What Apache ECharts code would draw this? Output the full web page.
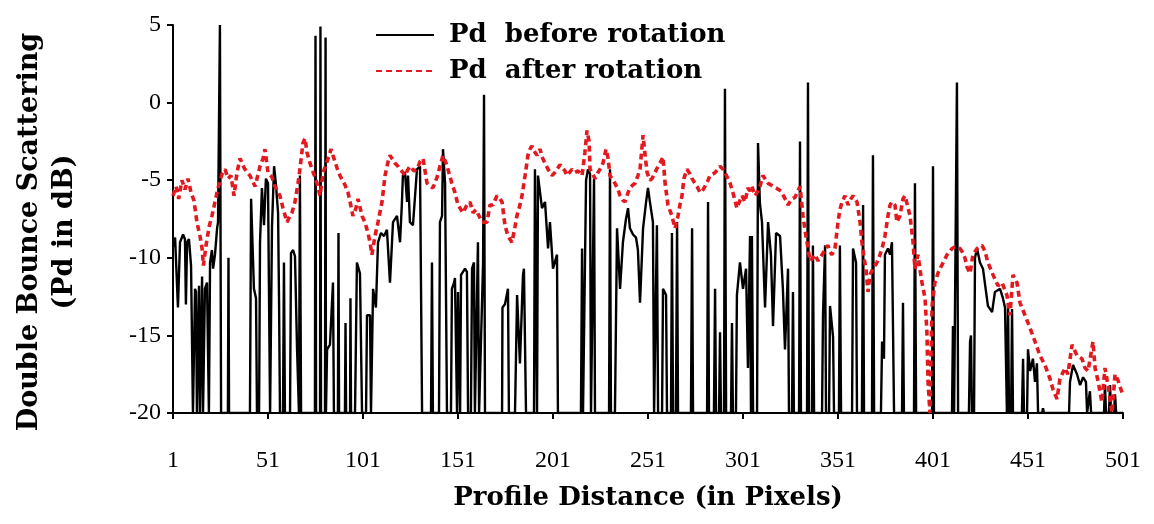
<!DOCTYPE html>
<html><head><meta charset="utf-8">
<script src="https://cdn.jsdelivr.net/npm/echarts@6/dist/echarts.min.js"></script>
<style>html,body{margin:0;padding:0;background:#fff}#c{width:1154px;height:524px}</style>
</head><body><div id="c"></div>
<script>
const seriesNames = ['Pd  before rotation', 'Pd  after rotation'];
const xTitle = 'Profile Distance (in Pixels)';
const yTitle = 'Double Bounce Scattering\n(Pd in dB)';

// Pd before rotation: [pixel index, dB]
const beforeRotation = [
[1,-9.3],[2.1,-8.7],[3.1,-8.6],[3.6,-13.2],[4.7,-9.0],[6.3,-8.5],[7.3,-8.8],[7.8,-13.0],[8.4,-9.0],[9.4,-8.8],
[10.5,-10.5],[11.5,-20],[12.6,-12.0],[13.1,-12.2],[13.6,-20],[14.7,-11.8],[15.2,-20],[16.3,-11.2],[16.8,-20],[17.8,-12.0],
[18.9,-11.6],[19.9,-20],[20.5,-10.3],[21.5,-9.5],[22.1,-10.7],[23.1,-9.8],[24.2,-8.1],[24.7,-7.7],[25.2,-7.7],[25.7,5.0],
[26.3,-20],[29.9,-20],[30.2,-10.0],[30.5,-20],[41.5,-20],[42.1,-6.2],[43.6,-12.0],[44.7,-12.6],[45.2,-20],[46.3,-20],
[46.8,-9.0],[47.8,-5.5],[48.9,-7.9],[49.9,-4.9],[51,-5.2],[52.1,-20],[53.1,-8.0],[54.2,-4.1],[55.2,-5.3],[56.3,-7.1],
[56.8,-12.6],[57.3,-20],[58.9,-20],[59.4,-10.3],[59.9,-20],[62.6,-20],[63.1,-9.7],[64.2,-9.5],[65.2,-9.9],[66.3,-15.9],
[67.3,-20],[67.8,-4.7],[68.4,-20],[75.7,-20],[76,4.3],[76.3,-20],[78.4,-20],[78.6,4.9],[78.9,-20],[81,-20],
[81.3,4.2],[81.5,-20],[82.1,-15.9],[83.6,-15.6],[85.2,-11.6],[85.7,-20],[87.8,-20],[88.1,-8.4],[88.4,-20],[91.5,-20],
[91.8,-14.2],[92.1,-20],[94.2,-20],[94.4,-12.6],[94.7,-20],[96.8,-20],[97.8,-10.3],[99.4,-11.0],[100.5,-20],[102.6,-20],
[103.1,-13.7],[104.7,-13.7],[105.2,-20],[106.3,-12.0],[107.8,-13.2],[108.9,-9.0],[110.5,-8.4],[112.1,-8.6],[113.6,-8.2],[115.2,-11.6],
[116.8,-7.7],[118.9,-7.3],[120.5,-9.0],[121.5,-6.4],[122,-4.7],[123.1,-4.5],[124.2,-6.4],[124.7,-4.7],[125.7,-7.7],[127.3,-7.9],
[129.4,-4.3],[131,-4.1],[132.1,-20],[136.8,-20],[137.3,-10.3],[137.8,-20],[141,-20],[141.5,-7.7],[142.6,-7.3],[143.1,-3.0],
[144.2,-5.2],[145.2,-20],[147.3,-20],[147.8,-12.0],[148.9,-11.6],[149.4,-11.3],[150.5,-20],[151,-12.2],[152.1,-20],[152.6,-11.1],
[154.7,-10.7],[155.7,-10.9],[156.3,-20],[157.8,-20],[158.4,-10.7],[159.4,-10.3],[159.9,-20],[161.5,-9.0],[162.1,-20],[164.2,-10.3],
[164.7,0.5],[165.2,-20],[174.2,-20],[174.4,-13.2],[175.7,-13.0],[177.3,-12.0],[177.8,-20],[181,-20],[182.1,-12.4],[183.6,-16.8],
[185.2,-11.1],[185.7,-10.7],[186.8,-20],[191,-20],[191.5,-4.3],[192.6,-20],[193.1,-4.7],[195.2,-6.8],[196.8,-6.4],[198.4,-9.4],
[199.4,-7.7],[201,-10.7],[203.1,-9.8],[203.6,-20],[215.7,-20],[216.3,-9.4],[216.8,-20],[217.8,-20],[218.4,-5.0],[219.4,-4.3],
[220.5,-4.6],[221,-20],[222,-20],[222.6,-4.9],[223.1,-20],[230.5,-20],[231,-4.3],[231.5,-20],[233.6,-20],[234.7,-8.1],
[236.3,-12.0],[237.8,-9.0],[239.4,-7.5],[240.5,-6.8],[241.5,-8.1],[243.1,-8.5],[244.7,-8.7],[245.7,-9.5],[246.8,-12.9],[248.4,-8.1],
[250,-6.4],[251,-5.5],[252,-6.4],[253.6,-7.7],[254.2,-20],[255.2,-20],[255.7,-7.9],[256.3,-20],[258.4,-20],[258.9,-12.0],
[260.5,-12.4],[261,-20],[263.1,-20],[263.6,-8.4],[264.2,-20],[265.7,-20],[266.3,-7.7],[266.8,-20],[273.6,-20],[274.2,-8.1],
[274.7,-20],[282.1,-20],[282.6,-6.4],[283.1,-20],[285.7,-20],[286.3,-12.0],[286.8,-20],[288.4,-20],[288.9,-14.8],[289.4,-20],
[291,-20],[291.5,0.9],[292.1,-20],[294.7,-20],[295.2,-14.2],[295.7,-20],[297.3,-20],[297.8,-12.4],[299.4,-10.3],[301,-12.0],
[302.6,-10.7],[303.6,-17.1],[304.7,-8.6],[305.2,-20],[305.7,-8.6],[306.3,-20],[308.4,-20],[308.9,-2.6],[309.9,-6.5],[311,-7.7],
[312.6,-13.2],[314.2,-7.7],[315.7,-9.8],[316.8,-14.4],[318.4,-8.4],[320.5,-8.6],[322,-12.0],[323.1,-15.9],[324.7,-10.7],[325.2,-20],
[326.8,-20],[327.3,-12.2],[327.8,-20],[330.5,-20],[331,-2.5],[331.5,-20],[334.7,-20],[335.2,1.3],[335.7,-20],[337.3,-20],
[337.8,-9.2],[338.4,-20],[342.6,-20],[343.1,-13.7],[344.2,-9.2],[344.7,-20],[346.3,-20],[346.8,-13.1],[348.4,-15.1],[348.9,-20],
[351.5,-20],[352,-9.2],[352.6,-20],[358.4,-20],[358.9,-9.4],[360.5,-10.3],[361,-20],[363.6,-20],[364.2,-6.6],[364.7,-20],
[368.9,-20],[369.4,-3.4],[370,-20],[373.6,-20],[374.2,-15.4],[375.2,-16.5],[375.7,-9.8],[377.3,-9.4],[378.4,-9.8],[379.4,-9.0],
[380.5,-20],[384.7,-20],[385.2,-12.9],[385.7,-20],[391,-20],[391.5,-5.2],[392.1,-20],[400.5,-20],[401,-4.1],[401.5,-20],
[411,-20],[411.5,-14.4],[412.1,-20],[413.1,-20],[413.6,1.3],[414.2,-20],[419.9,-20],[420.5,-15.4],[421,-15.0],[421.5,-20],
[422.6,-20],[423.1,-10.0],[424.2,-9.4],[425.7,-10.3],[427.3,-10.7],[429.9,-13.1],[432.1,-13.5],[433.6,-12.2],[436.3,-12.0],[437.8,-12.6],
[438.9,-13.2],[439.9,-20],[440.5,-13.0],[441,-20],[442.1,-20],[442.6,-13.3],[443.1,-20],[447.8,-20],[448.4,-16.5],[448.9,-20],
[450.5,-20],[451,-15.9],[452.1,-17.3],[453.6,-16.5],[454.7,-18.0],[455.7,-16.8],[456.3,-20],[458.4,-20],[458.9,-19.7],[459.4,-20],
[472.6,-20],[473.1,-18.0],[474.7,-16.9],[476.8,-17.5],[478.4,-18.2],[480,-17.7],[481.5,-18.0],[482.1,-20],[483.1,-20],[483.6,-18.6],
[484.2,-20],[491,-20],[491.5,-18.2],[492.1,-20],[493.6,-20],[494.2,-18.2],[494.7,-20],[496.3,-20],[496.8,-18.8],[497.4,-20],
[501,-20]
];

// Pd after rotation: [pixel index, dB]
const afterRotation = [
[1,-6.0],[2.6,-5.4],[4,-6.2],[5.7,-5.0],[7.3,-5.6],[8.9,-4.9],[10.5,-5.8],[12,-6.3],[13.6,-7.7],[15.2,-8.6],
[16.3,-9.4],[17,-10.5],[18.4,-9.2],[20,-8.0],[21.5,-7.3],[23.1,-6.4],[24.7,-5.5],[26.8,-4.6],[28.4,-4.3],[30,-4.9],
[31.5,-4.7],[33.1,-6.0],[34.7,-4.5],[36.3,-3.6],[38.4,-4.2],[40,-4.5],[41.5,-4.7],[44.2,-5.4],[46.8,-4.1],[48.4,-3.6],
[49.4,-3.0],[51,-4.5],[53.1,-4.8],[54.7,-5.4],[57.3,-6.0],[58.9,-6.8],[61,-7.7],[62.6,-7.3],[63.6,-7.1],[65.2,-6.4],
[66.8,-5.2],[67.8,-4.3],[69.4,-2.6],[70.5,-2.3],[71.5,-3.2],[73.1,-3.9],[74.2,-4.3],[75.7,-4.8],[76.8,-5.2],[78.4,-6.0],
[80,-4.5],[81.5,-4.0],[82.6,-3.6],[84.2,-3.0],[85.2,-3.4],[87.3,-4.2],[88.9,-4.7],[91.5,-5.3],[93.1,-5.8],[94.2,-6.4],
[95.7,-7.3],[97.3,-6.8],[98.4,-6.2],[100.5,-7.3],[102,-7.7],[103.6,-8.4],[104.7,-9.0],[105.7,-9.8],[107.3,-8.6],[108.9,-7.7],
[111,-6.4],[112.6,-4.7],[114.2,-3.8],[115.2,-3.4],[116.8,-3.7],[117.8,-3.9],[119.4,-4.1],[120.5,-4.3],[122,-4.5],[123.1,-4.7],
[124.7,-4.3],[125.7,-4.1],[127.8,-4.4],[129.4,-4.3],[131,-3.8],[132.6,-3.6],[134.7,-5.2],[136.3,-5.4],[137.8,-5.5],[140,-4.8],
[141.5,-4.1],[143.1,-3.4],[144.7,-3.9],[145.7,-4.3],[147.8,-5.2],[149.4,-5.8],[151,-6.6],[152.6,-6.9],[153.6,-7.1],[155.7,-6.6],
[157.3,-6.4],[158.9,-7.1],[160.5,-6.9],[161.5,-6.8],[163.6,-7.7],[165.2,-7.7],[166.3,-7.7],[167.8,-6.6],[169.4,-6.6],[171.5,-6.0],
[173.1,-6.2],[174.2,-6.4],[175.7,-7.9],[177.3,-8.6],[179.4,-9.0],[181,-8.0],[182,-7.3],[183.6,-6.6],[184.7,-6.0],[186.3,-4.7],
[187.8,-3.4],[188.9,-3.0],[189.9,-2.8],[191.5,-3.2],[192.6,-3.4],[194.2,-3.0],[195.2,-3.5],[196.8,-3.9],[198.4,-4.3],[200.5,-4.7],
[202,-4.5],[203.1,-4.3],[204.7,-4.0],[205.7,-3.9],[207.3,-4.4],[208.4,-4.7],[211,-4.3],[212.6,-4.5],[214.2,-4.4],[216.3,-4.7],
[217.8,-3.2],[218.9,-1.8],[220,-2.5],[220.5,-4.3],[222,-4.6],[223.1,-4.9],[224.7,-4.5],[225.7,-4.3],[227.3,-3.9],[228.9,-3.0],
[230,-3.6],[231,-4.7],[232.6,-5.0],[233.6,-5.2],[235.2,-5.6],[236.3,-6.0],[237.8,-6.3],[238.9,-6.4],[240.5,-5.8],[241.5,-5.5],
[243.1,-5.3],[244.2,-5.2],[245.7,-4.7],[246.8,-4.3],[248.4,-2.1],[249.4,-3.3],[250.5,-4.5],[252,-5.0],[253.1,-4.9],[254.7,-4.5],
[256.3,-4.1],[257.3,-3.9],[258.9,-3.5],[260,-5.2],[261.5,-6.6],[263.6,-7.3],[265.2,-8.1],[266.8,-7.3],[267.8,-6.6],[268.9,-6.0],
[269.9,-4.9],[271.5,-4.3],[273.1,-4.6],[274.2,-4.9],[275.7,-5.2],[276.8,-5.4],[278.4,-5.8],[280,-5.6],[281,-5.4],[282.6,-5.0],
[283.6,-4.7],[285.2,-4.6],[286.3,-4.5],[287.8,-4.3],[288.9,-4.1],[290.5,-4.3],[291.5,-4.5],[293.1,-4.9],[294.2,-5.2],[295.7,-5.8],
[297.8,-6.8],[299.4,-6.3],[300.5,-6.0],[302,-6.4],[303.6,-5.5],[304.7,-5.7],[305.7,-5.4],[307.3,-6.0],[308.9,-5.7],[309.9,-5.4],
[311.5,-4.7],[313.1,-5.0],[314.2,-5.2],[315.7,-5.3],[316.8,-5.4],[318.4,-5.5],[319.4,-5.5],[321,-5.7],[322,-5.8],[323.6,-6.3],
[324.7,-6.6],[325.7,-6.4],[326.8,-6.2],[328.4,-6.1],[329.4,-6.0],[331,-5.4],[332.6,-7.3],[333.6,-8.2],[334.7,-9.0],[336.3,-10.2],
[337.8,-10.0],[338.9,-9.8],[340.5,-10.2],[341.5,-10.0],[343.1,-9.7],[344.2,-9.4],[345.7,-9.2],[346.8,-9.6],[347.8,-9.8],[349.4,-9.4],
[351,-7.7],[352,-6.9],[353.1,-6.4],[354.7,-6.0],[356.3,-6.6],[357.3,-6.3],[358.9,-6.0],[360,-6.2],[361,-6.4],[362.6,-7.7],
[363.6,-9.0],[364.7,-10.0],[365.7,-10.7],[366.8,-12.2],[367.8,-11.1],[369.4,-10.7],[371.5,-10.3],[373.1,-9.8],[374.2,-9.4],[375.7,-8.6],
[377.3,-7.3],[378.4,-6.6],[379.4,-6.4],[381,-6.6],[382,-7.7],[383.6,-7.3],[385.2,-6.2],[386.3,-6.0],[387.3,-6.0],[388.9,-7.3],
[390.5,-9.0],[391.5,-10.7],[393.1,-9.8],[394.2,-10.8],[395.2,-11.6],[396.8,-12.6],[397.8,-14.8],[398.4,-18.0],[399.4,-20.0],[400.5,-13.1],
[402,-11.6],[403.6,-11.0],[404.7,-10.7],[406.8,-10.2],[408.4,-9.8],[409.9,-9.6],[411,-9.4],[412.6,-9.3],[413.6,-9.2],[415.2,-9.4],
[416.3,-9.6],[417.8,-10.0],[418.9,-10.6],[420.5,-11.0],[422,-9.8],[424.2,-9.4],[426.8,-9.2],[428.4,-9.6],[429.9,-10.3],[432.6,-11.1],
[435.2,-11.8],[437.3,-11.6],[439.9,-12.4],[441.5,-13.7],[443.1,-11.1],[445.2,-11.6],[446.8,-12.9],[449.4,-13.7],[452,-14.5],[454.7,-15.4],
[457.3,-16.3],[459.9,-16.9],[462.6,-17.8],[464.2,-18.5],[466.3,-19.1],[467.8,-17.8],[470.5,-17.1],[472,-17.5],[474.2,-15.6],[475.7,-16.0],
[476.8,-16.3],[479.4,-16.5],[481,-17.1],[482.6,-17.3],[485.2,-15.4],[486.3,-17.1],[487.8,-17.9],[489.9,-19.3],[491.5,-17.1],[493.1,-18.2],
[495.2,-20.0],[496.8,-17.5],[498.4,-17.9],[500.5,-18.7]
];

const FONT = '"Liberation Serif", "Times New Roman", serif';
const WIDE = '"DejaVu Serif", "Liberation Serif", serif';
const chart = echarts.init(document.getElementById('c'), null, {renderer: 'canvas'});
chart.setOption({
  animation: false,
  backgroundColor: '#fff',
  grid: {left: 173, right: 31, top: 25, bottom: 111, containLabel: false},
  legend: {
    orient: 'vertical', left: 370, top: 17, itemGap: 10,
    itemWidth: 58, itemHeight: 14,
    itemStyle: {opacity: 0},
    textStyle: {fontFamily: WIDE, fontSize: 26, fontWeight: 'bold', color: '#000', padding: [0, 0, 0, 10]},
    data: seriesNames
  },
  graphic: [{
    type: 'text', z: 10,
    rotation: Math.PI / 2,
    x: 47, y: 232,
    style: {text: yTitle, fontFamily: WIDE, fontSize: 27, fontWeight: 'bold', fill: '#000',
            lineHeight: 35, align: 'center', verticalAlign: 'middle'}
  }],
  xAxis: {
    type: 'value', min: 1, max: 501, interval: 50,
    name: xTitle, nameLocation: 'middle', nameGap: 72,
    nameTextStyle: {fontFamily: WIDE, fontSize: 26, fontWeight: 'bold', color: '#000'},
    axisLine: {onZero: false, lineStyle: {color: '#000', width: 2}},
    axisTick: {show: true, length: 6, lineStyle: {color: '#000', width: 2}},
    axisLabel: {fontFamily: FONT, fontSize: 24, color: '#000', margin: 36},
    splitLine: {show: false}
  },
  yAxis: {
    type: 'value', min: -20, max: 5, interval: 5,
    axisLine: {show: true, lineStyle: {color: '#000', width: 2}},
    axisTick: {show: true, length: 6, lineStyle: {color: '#000', width: 2}},
    axisLabel: {fontFamily: FONT, fontSize: 24, color: '#000', margin: 12},
    splitLine: {show: false}
  },
  series: [
    {name: seriesNames[0], type: 'line', data: beforeRotation, showSymbol: false, symbol: 'none',
     lineStyle: {color: '#000', width: 2.4}, itemStyle: {color: '#000'}, z: 2},
    {name: seriesNames[1], type: 'line', data: afterRotation, showSymbol: false, symbol: 'none',
     lineStyle: {color: '#e3191f', width: 3.6, type: [6, 4]}, itemStyle: {color: '#e3191f'}, z: 3}
  ]
});
</script></body></html>
